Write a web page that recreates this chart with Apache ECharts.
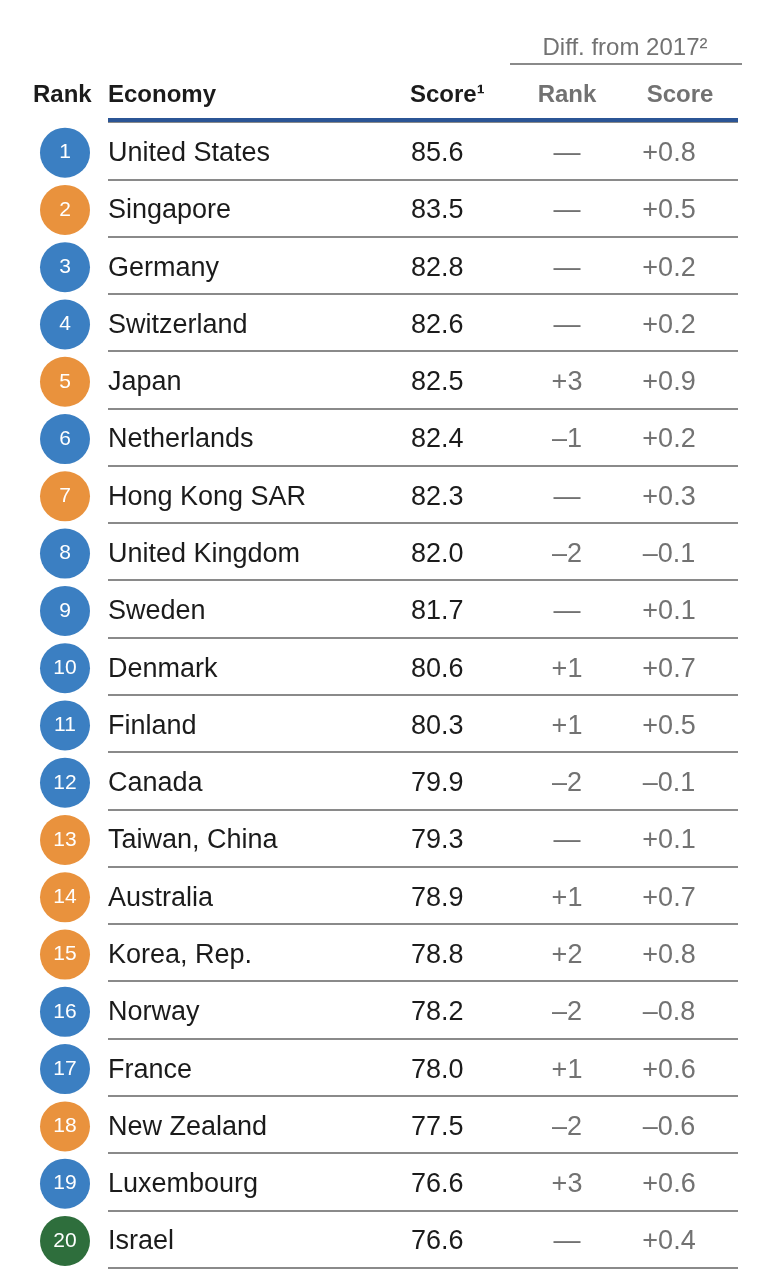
<!DOCTYPE html>
<html>
<head>
<meta charset="utf-8">
<script src="https://cdn.jsdelivr.net/npm/echarts@6/dist/echarts.min.js"></script>
<style>
html,body{margin:0;padding:0;background:#fff;}
#c{width:764px;height:1274px;}
</style>
</head>
<body>
<div id="c"></div>
<script>
var ranks = [1,2,3,4,5,6,7,8,9,10,11,12,13,14,15,16,17,18,19,20];
var economies = ["United States","Singapore","Germany","Switzerland","Japan","Netherlands","Hong Kong SAR","United Kingdom","Sweden","Denmark","Finland","Canada","Taiwan, China","Australia","Korea, Rep.","Norway","France","New Zealand","Luxembourg","Israel"];
var scores = [85.6,83.5,82.8,82.6,82.5,82.4,82.3,82.0,81.7,80.6,80.3,79.9,79.3,78.9,78.8,78.2,78.0,77.5,76.6,76.6];
var rankDiff = [0,0,0,0,3,-1,0,-2,0,1,1,-2,0,1,2,-2,1,-2,3,0];
var scoreDiff = [0.8,0.5,0.2,0.2,0.9,0.2,0.3,-0.1,0.1,0.7,0.5,-0.1,0.1,0.7,0.8,-0.8,0.6,-0.6,0.6,0.4];
var regions = ["B","O","B","B","O","B","O","B","B","B","B","B","O","O","O","B","B","O","B","G"];
var regionColors = {B:"#3b7fc2", O:"#e9923d", G:"#2e6e3c"};

var FONT = "'Liberation Sans', Arial, Helvetica, sans-serif";
var NARROW = "'Liberation Sans Narrow', 'Liberation Sans', Arial, sans-serif";
var TOP = 122, ROWH = 57.28, N = ranks.length;
var HEIGHT = ROWH * N;

function fmtRank(v){ return v === 0 ? "\u2014" : (v > 0 ? "+" + v : "\u2013" + Math.abs(v)); }
function fmtScoreDiff(v){ return (v >= 0 ? "+" : "\u2013") + Math.abs(v).toFixed(1); }

var cats = ranks.map(String);

var circleData = ranks.map(function(r, i){
  return { value: [0.5, i], itemStyle: { color: regionColors[regions[i]], opacity: 1 } };
});

// column positions (px from table left) are layout, not data
var COL_ECON = 0, COL_SCORE = 303, COL_RD = 459, COL_SD = 561;

function textSeries(col, texts, pos, color){
  return {
    type: 'scatter', xAxisIndex: 1, yAxisIndex: 1,
    symbolSize: 0, silent: true, animation: false,
    itemStyle: { opacity: 1 },
    data: texts.map(function(t, i){ return { value: [col, i], txt: t }; }),
    label: {
      show: true, position: pos, distance: 0, offset: [0, 3],
      formatter: function(p){ return p.data.txt; },
      fontFamily: FONT, fontSize: 27, color: color
    }
  };
}

var chart = echarts.init(document.getElementById('c'), null, {renderer:'canvas'});
chart.setOption({
  backgroundColor: '#ffffff',
  animation: false,
  grid: [
    { left: 40, width: 50, top: TOP, height: HEIGHT },
    { left: 108, width: 630, top: TOP, height: HEIGHT }
  ],
  xAxis: [
    { gridIndex: 0, type: 'value', min: 0, max: 1, show: false },
    { gridIndex: 1, type: 'value', min: 0, max: 630, position: 'top', offset: 2,
      axisLine: { show: true, lineStyle: { color: '#2b5595', width: 4, cap: 'butt' } },
      axisTick: { show: false }, axisLabel: { show: false }, splitLine: { show: false } }
  ],
  yAxis: [
    { gridIndex: 0, type: 'category', data: cats, inverse: true, show: false },
    { gridIndex: 1, type: 'category', data: cats, inverse: true, boundaryGap: true,
      axisLine: { show: false }, axisTick: { show: false }, axisLabel: { show: false },
      splitLine: { show: true, lineStyle: { color: '#8a8a8a', width: 2 } } }
  ],
  series: [
    {
      type: 'scatter', xAxisIndex: 0, yAxisIndex: 0, symbol: 'circle', symbolSize: 50,
      symbolOffset: [0, 2],
      silent: true, data: circleData, itemStyle: { opacity: 1 },
      label: { show: true, position: 'inside', formatter: function(p){ return ranks[p.dataIndex]; },
        color: '#ffffff', fontFamily: NARROW, fontSize: 21 }
    },
    textSeries(COL_ECON, economies, 'right', '#1b1b1b'),
    textSeries(COL_SCORE, scores.map(function(v){ return v.toFixed(1); }), 'right', '#1b1b1b'),
    textSeries(COL_RD, rankDiff.map(fmtRank), 'inside', '#727272'),
    textSeries(COL_SD, scoreDiff.map(fmtScoreDiff), 'inside', '#727272')
  ],
  graphic: [
    { type: 'text', x: 33, y: 95, style: { text: 'Rank', font: 'bold 24px ' + FONT, fill: '#1b1b1b', align: 'left', verticalAlign: 'middle' } },
    { type: 'text', x: 108, y: 95, style: { text: 'Economy', font: 'bold 24px ' + FONT, fill: '#1b1b1b', align: 'left', verticalAlign: 'middle' } },
    { type: 'text', x: 410, y: 95, style: { text: 'Score\u00B9', font: 'bold 24px ' + FONT, fill: '#1b1b1b', align: 'left', verticalAlign: 'middle' } },
    { type: 'text', x: 567, y: 95, style: { text: 'Rank', font: 'bold 24px ' + FONT, fill: '#727272', align: 'center', verticalAlign: 'middle' } },
    { type: 'text', x: 680, y: 95, style: { text: 'Score', font: 'bold 24px ' + FONT, fill: '#727272', align: 'center', verticalAlign: 'middle' } },
    { type: 'text', x: 625, y: 48, style: { text: 'Diff. from 2017\u00B2', font: '24px ' + FONT, fill: '#727272', align: 'center', verticalAlign: 'middle' } },
    { type: 'line', shape: { x1: 510, y1: 64, x2: 742, y2: 64 }, style: { stroke: '#8a8a8a', lineWidth: 2 } }
  ]
});
</script>
</body>
</html>
